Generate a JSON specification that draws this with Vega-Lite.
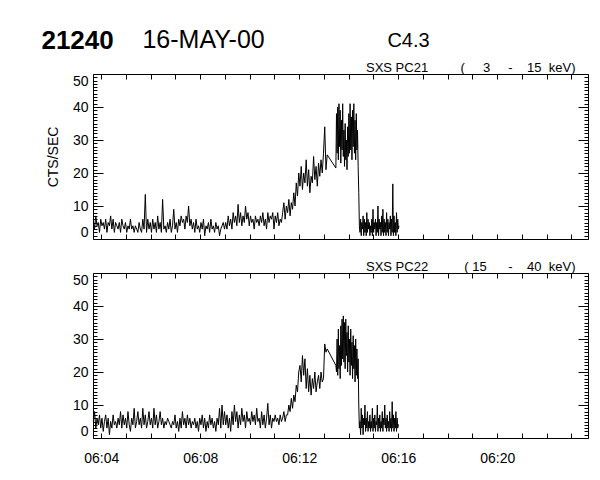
{
"$schema": "https://vega.github.io/schema/vega-lite/v6.json",
"padding": {"left": 41, "top": 28, "right": 5, "bottom": 5},
"datasets": {"d": [
{"t":3.68,"a":6,"b":5},{"t":3.73,"a":3,"b":8},{"t":3.78,"a":7,"b":3},{"t":3.83,"a":4,"b":6},{"t":3.88,"a":5,"b":4},{"t":3.93,"a":2,"b":7},{"t":3.98,"a":6,"b":3},{"t":4.03,"a":4,"b":6},{"t":4.08,"a":5,"b":2},{"t":4.13,"a":3,"b":5},
{"t":4.18,"a":6,"b":7},{"t":4.23,"a":2,"b":3},{"t":4.28,"a":5,"b":6},{"t":4.33,"a":4,"b":1},{"t":4.38,"a":7,"b":5},{"t":4.43,"a":3,"b":3},{"t":4.48,"a":6,"b":7},{"t":4.53,"a":2,"b":4},{"t":4.58,"a":5,"b":5},{"t":4.63,"a":4,"b":3},
{"t":4.68,"a":3,"b":6},{"t":4.73,"a":5,"b":4},{"t":4.78,"a":2,"b":8},{"t":4.83,"a":6,"b":3},{"t":4.88,"a":4,"b":7},{"t":4.93,"a":3,"b":4},{"t":4.98,"a":5,"b":6},{"t":5.03,"a":2,"b":3},{"t":5.08,"a":4,"b":8},{"t":5.13,"a":3,"b":4},
{"t":5.18,"a":6,"b":2},{"t":5.23,"a":3,"b":6},{"t":5.28,"a":4,"b":4},{"t":5.33,"a":2,"b":9},{"t":5.38,"a":4,"b":3},{"t":5.43,"a":3,"b":5},{"t":5.48,"a":2,"b":8},{"t":5.53,"a":5,"b":4},{"t":5.58,"a":3,"b":6},{"t":5.63,"a":2,"b":3},
{"t":5.68,"a":6,"b":9},{"t":5.73,"a":3,"b":4},{"t":5.78,"a":13.5,"b":7},{"t":5.83,"a":2,"b":3},{"t":5.88,"a":6,"b":5},{"t":5.93,"a":3,"b":8},{"t":5.98,"a":5,"b":4},{"t":6.03,"a":2,"b":6},{"t":6.08,"a":6,"b":3},{"t":6.13,"a":3,"b":9},
{"t":6.18,"a":5,"b":4},{"t":6.23,"a":2,"b":7},{"t":6.28,"a":7,"b":3},{"t":6.33,"a":3,"b":5},{"t":6.38,"a":5,"b":8},{"t":6.43,"a":2,"b":4},{"t":6.48,"a":12,"b":6},{"t":6.53,"a":3,"b":3},{"t":6.58,"a":4,"b":5},{"t":6.63,"a":2,"b":4},
{"t":6.68,"a":5,"b":6},{"t":6.73,"a":3,"b":5},{"t":6.78,"a":6,"b":4},{"t":6.83,"a":2,"b":3},{"t":6.88,"a":4,"b":5},{"t":6.93,"a":9,"b":4},{"t":6.98,"a":3,"b":7},{"t":7.03,"a":5,"b":3},{"t":7.08,"a":2,"b":5},{"t":7.13,"a":6,"b":2},
{"t":7.18,"a":4,"b":6},{"t":7.23,"a":7,"b":3},{"t":7.28,"a":5,"b":8},{"t":7.33,"a":6,"b":4},{"t":7.38,"a":3,"b":6},{"t":7.43,"a":7,"b":3},{"t":7.48,"a":5,"b":7},{"t":7.53,"a":10,"b":4},{"t":7.58,"a":4,"b":6},{"t":7.63,"a":6,"b":3},
{"t":7.68,"a":3,"b":5},{"t":7.73,"a":5,"b":4},{"t":7.78,"a":2,"b":6},{"t":7.83,"a":6,"b":3},{"t":7.88,"a":3,"b":5},{"t":7.93,"a":4,"b":2},{"t":7.98,"a":2,"b":6},{"t":8.03,"a":5,"b":4},{"t":8.08,"a":3,"b":7},{"t":8.13,"a":6,"b":3},
{"t":8.18,"a":1,"b":6},{"t":8.23,"a":4,"b":2},{"t":8.28,"a":3,"b":5},{"t":8.33,"a":5,"b":3},{"t":8.38,"a":2,"b":7},{"t":8.43,"a":6,"b":4},{"t":8.48,"a":3,"b":6},{"t":8.53,"a":4,"b":3},{"t":8.58,"a":2,"b":5},{"t":8.63,"a":5,"b":2},
{"t":8.68,"a":3,"b":6},{"t":8.73,"a":4,"b":4},{"t":8.78,"a":1,"b":9},{"t":8.83,"a":3,"b":3},{"t":8.88,"a":4,"b":10},{"t":8.93,"a":5,"b":4},{"t":8.98,"a":3,"b":8},
{"t":9.03,"a":5,"b":4},{"t":9.08,"a":3,"b":7},{"t":9.13,"a":7,"b":3},{"t":9.18,"a":4,"b":6},{"t":9.23,"a":6,"b":2},{"t":9.28,"a":3,"b":8},{"t":9.33,"a":8,"b":4},{"t":9.38,"a":5,"b":10},{"t":9.43,"a":7,"b":5},{"t":9.48,"a":4,"b":8},
{"t":9.53,"a":10.5,"b":3},{"t":9.58,"a":5,"b":7},{"t":9.63,"a":8,"b":4},{"t":9.68,"a":4,"b":9},{"t":9.73,"a":7,"b":5},{"t":9.78,"a":5,"b":7},{"t":9.83,"a":10,"b":3},{"t":9.88,"a":6,"b":8},{"t":9.93,"a":8,"b":5},{"t":9.98,"a":4,"b":6},
{"t":10.03,"a":7,"b":4},{"t":10.08,"a":5,"b":8},{"t":10.13,"a":6,"b":5},{"t":10.18,"a":3,"b":7},{"t":10.23,"a":7,"b":4},{"t":10.28,"a":5,"b":9},{"t":10.33,"a":6,"b":5},{"t":10.38,"a":4,"b":6},{"t":10.43,"a":7,"b":3},{"t":10.48,"a":5,"b":8},
{"t":10.53,"a":8,"b":4},{"t":10.58,"a":4,"b":7},{"t":10.63,"a":6,"b":3},{"t":10.68,"a":3,"b":6},{"t":10.73,"a":8,"b":10.5},{"t":10.78,"a":5,"b":4},{"t":10.83,"a":7,"b":7},{"t":10.88,"a":6,"b":3},{"t":10.93,"a":8,"b":6},{"t":10.98,"a":3,"b":5},
{"t":11.03,"a":7,"b":7},{"t":11.08,"a":5,"b":5},{"t":11.13,"a":8,"b":6},{"t":11.18,"a":4,"b":4},{"t":11.23,"a":6,"b":7},{"t":11.28,"a":5,"b":5},
{"t":11.33,"a":8,"b":6},{"t":11.38,"a":11,"b":8},{"t":11.43,"a":6,"b":5},{"t":11.48,"a":10,"b":7},{"t":11.53,"a":8,"b":7},{"t":11.58,"a":12,"b":10},{"t":11.63,"a":7,"b":8},{"t":11.68,"a":11,"b":12},{"t":11.73,"a":9,"b":9},{"t":11.78,"a":14,"b":13},
{"t":11.83,"a":10,"b":11},{"t":11.88,"a":17,"b":16},{"t":11.93,"a":13,"b":14},{"t":11.98,"a":20,"b":20},
{"t":12.03,"a":16,"b":22},{"t":12.08,"a":22,"b":17},{"t":12.13,"a":15,"b":25},{"t":12.18,"a":20,"b":19},{"t":12.23,"a":17,"b":24},{"t":12.28,"a":24,"b":15},{"t":12.33,"a":16,"b":21},{"t":12.38,"a":21,"b":14},{"t":12.43,"a":14,"b":19},{"t":12.48,"a":19,"b":13},
{"t":12.53,"a":17,"b":18},{"t":12.58,"a":25,"b":15},{"t":12.63,"a":18,"b":20},{"t":12.68,"a":22,"b":14},{"t":12.73,"a":16,"b":17},{"t":12.78,"a":23,"b":19},{"t":12.83,"a":19,"b":15},{"t":12.88,"a":24,"b":20},{"t":12.93,"a":20,"b":17},{"t":12.98,"a":26,"b":18},
{"t":13.03,"a":34,"b":28.5},{"t":13.08,"a":21,"b":26},{"t":13.13,"a":25.5,"b":27},
{"t":13.48,"a":21.5,"b":22},{"t":13.505,"a":38,"b":20},{"t":13.53,"a":26,"b":30},{"t":13.555,"a":40,"b":19},{"t":13.58,"a":24,"b":33},{"t":13.605,"a":41,"b":21},{"t":13.63,"a":28,"b":28},{"t":13.655,"a":39,"b":18},{"t":13.68,"a":23,"b":34},{"t":13.705,"a":36,"b":22},
{"t":13.73,"a":27,"b":36},{"t":13.755,"a":41,"b":24},{"t":13.78,"a":25,"b":37},{"t":13.805,"a":33,"b":23},{"t":13.83,"a":22,"b":35},{"t":13.855,"a":35,"b":21},{"t":13.88,"a":24,"b":36},{"t":13.905,"a":30,"b":25},{"t":13.93,"a":21,"b":32},{"t":13.955,"a":34,"b":20},
{"t":13.98,"a":25,"b":34},{"t":14.005,"a":38,"b":23},{"t":14.03,"a":26,"b":30},{"t":14.055,"a":41,"b":19},{"t":14.08,"a":27,"b":33},{"t":14.105,"a":37,"b":22},{"t":14.13,"a":24,"b":29},{"t":14.155,"a":39,"b":18},{"t":14.18,"a":28,"b":31},{"t":14.205,"a":41,"b":21},
{"t":14.23,"a":26,"b":28},{"t":14.255,"a":36,"b":17},{"t":14.28,"a":24,"b":30},{"t":14.305,"a":38,"b":19},{"t":14.33,"a":27,"b":27},{"t":14.355,"a":33,"b":18},{"t":14.38,"a":22,"b":24},{"t":14.405,"a":14,"b":10},{"t":14.43,"a":4,"b":3},
{"t":14.455,"a":2,"b":5},{"t":14.48,"a":6,"b":1},{"t":14.505,"a":1,"b":9},{"t":14.53,"a":5,"b":3},{"t":14.555,"a":3,"b":7},{"t":14.58,"a":7,"b":1},{"t":14.605,"a":1,"b":6},{"t":14.63,"a":6,"b":4},{"t":14.655,"a":2,"b":10},{"t":14.68,"a":5,"b":2},
{"t":14.705,"a":1,"b":6},{"t":14.73,"a":8,"b":3},{"t":14.755,"a":2,"b":8},{"t":14.78,"a":6,"b":2},{"t":14.805,"a":3,"b":5},{"t":14.83,"a":5,"b":3},{"t":14.855,"a":1,"b":7},{"t":14.88,"a":4,"b":2},{"t":14.905,"a":2,"b":5},{"t":14.93,"a":6,"b":3},
{"t":14.955,"a":1,"b":9},{"t":14.98,"a":9,"b":2},{"t":15.005,"a":2,"b":6},{"t":15.03,"a":5,"b":3},{"t":15.055,"a":3,"b":7},{"t":15.08,"a":6,"b":2},{"t":15.105,"a":1,"b":5},{"t":15.13,"a":5,"b":4},{"t":15.155,"a":2,"b":10},{"t":15.18,"a":10,"b":2},
{"t":15.205,"a":1,"b":6},{"t":15.23,"a":6,"b":3},{"t":15.255,"a":3,"b":7},{"t":15.28,"a":5,"b":2},{"t":15.305,"a":1,"b":5},{"t":15.33,"a":7,"b":3},{"t":15.355,"a":2,"b":8},{"t":15.38,"a":9,"b":2},{"t":15.405,"a":1,"b":6},{"t":15.43,"a":6,"b":4},
{"t":15.455,"a":2,"b":10},{"t":15.48,"a":5,"b":3},{"t":15.505,"a":1,"b":6},{"t":15.53,"a":8,"b":2},{"t":15.555,"a":2,"b":7},{"t":15.58,"a":6,"b":3},{"t":15.605,"a":1,"b":5},{"t":15.63,"a":5,"b":2},{"t":15.655,"a":3,"b":8},{"t":15.68,"a":7,"b":3},
{"t":15.705,"a":1,"b":6},{"t":15.73,"a":6,"b":2},{"t":15.755,"a":2,"b":11},{"t":15.78,"a":16.7,"b":3},{"t":15.805,"a":1,"b":7},{"t":15.83,"a":7,"b":2},{"t":15.855,"a":2,"b":6},{"t":15.88,"a":5,"b":3},{"t":15.905,"a":1,"b":8},{"t":15.93,"a":8,"b":2},
{"t":15.955,"a":2,"b":6},{"t":15.98,"a":6,"b":3},{"t":16.005,"a":3,"b":4},{"t":16.03,"a":4,"b":4}
]},
"title": {"text": "21240", "fontSize": 26, "fontWeight": "bold", "anchor": "start", "frame": "bounds", "dx": -5, "offset": -26},
"vconcat": [{
  "title": {"text": "16-MAY-00", "fontSize": 25, "anchor": "start", "frame": "bounds", "dx": 96, "offset": -22},
  "vconcat": [{
    "title": {"text": "C4.3", "fontSize": 20, "anchor": "start", "frame": "bounds", "dx": 341, "offset": 11},
    "spacing": 18,
    "vconcat": [
      {
        "width": 495, "height": 165,
        "title": {"text": "SXS PC21\u00a0\u00a0\u00a0\u00a0\u00a0\u00a0\u00a0\u00a0\u00a0(\u00a0\u00a0\u00a0\u00a0\u00a03\u00a0\u00a0\u00a0\u00a0\u00a0-\u00a0\u00a0\u00a0\u00a015\u00a0\u00a0keV)", "anchor": "end", "fontSize": 13, "dx": -13, "offset": -5},
        "data": {"name": "d"},
        "layer": [
          {"mark": {"type": "line", "color": "black", "strokeWidth": 1},
           "encoding": {
             "x": {"field": "t", "type": "quantitative", "scale": {"domain": [3.667, 23.667], "nice": false, "zero": false},
                   "axis": {"orient": "bottom", "title": null, "values": [4,5,6,7,8,9,10,11,12,13,14,15,16,17,18,19,20,21,22,23], "labels": false, "tickSize": -5}},
             "y": {"field": "a", "type": "quantitative", "scale": {"domain": [0, 50], "nice": false},
                   "axis": {"orient": "left", "title": "CTS/SEC", "titlePadding": 12, "values": [0,1,2,3,4,5,6,7,8,9,10,11,12,13,14,15,16,17,18,19,20,21,22,23,24,25,26,27,28,29,30,31,32,33,34,35,36,37,38,39,40,41,42,43,44,45,46,47,48,49,50],
                            "tickSize": {"condition": {"test": "datum.value % 10 === 0", "value": -10}, "value": -4},
                            "labelExpr": "datum.value % 10 === 0 ? datum.label : ''", "labelFlush": true, "labelPadding": 15}}
           }},
          {"mark": {"type": "line", "strokeOpacity": 0},
           "encoding": {
             "x": {"field": "t", "type": "quantitative",
                   "axis": {"orient": "top", "title": null, "values": [4,5,6,7,8,9,10,11,12,13,14,15,16,17,18,19,20,21,22,23], "labels": false, "tickSize": -5}},
             "y": {"field": "a", "type": "quantitative",
                   "axis": {"orient": "right", "title": null, "labels": false, "values": [0,1,2,3,4,5,6,7,8,9,10,11,12,13,14,15,16,17,18,19,20,21,22,23,24,25,26,27,28,29,30,31,32,33,34,35,36,37,38,39,40,41,42,43,44,45,46,47,48,49,50],
                            "tickSize": {"condition": {"test": "datum.value % 10 === 0", "value": -10}, "value": -4}}}
           }}
        ],
        "resolve": {"axis": {"x": "independent", "y": "independent"}}
      },
      {
        "width": 495, "height": 165,
        "title": {"text": "SXS PC22\u00a0\u00a0\u00a0\u00a0\u00a0\u00a0\u00a0\u00a0\u00a0\u00a0(\u00a015\u00a0\u00a0\u00a0\u00a0\u00a0\u00a0-\u00a0\u00a0\u00a0\u00a040\u00a0\u00a0keV)", "anchor": "end", "fontSize": 13, "dx": -13, "offset": -5},
        "data": {"name": "d"},
        "layer": [
          {"mark": {"type": "line", "color": "black", "strokeWidth": 1},
           "encoding": {
             "x": {"field": "t", "type": "quantitative", "scale": {"domain": [3.667, 23.667], "nice": false, "zero": false},
                   "axis": {"orient": "bottom", "title": null, "values": [4,5,6,7,8,9,10,11,12,13,14,15,16,17,18,19,20,21,22,23], "tickSize": -5, "labelPadding": 18, "labelFlush": false,
                            "labelExpr": "datum.value % 4 === 0 ? '06:' + (datum.value < 10 ? '0' : '') + datum.value : ''"}},
             "y": {"field": "b", "type": "quantitative", "scale": {"domain": [0, 50], "nice": false},
                   "axis": {"orient": "left", "title": null, "values": [0,1,2,3,4,5,6,7,8,9,10,11,12,13,14,15,16,17,18,19,20,21,22,23,24,25,26,27,28,29,30,31,32,33,34,35,36,37,38,39,40,41,42,43,44,45,46,47,48,49,50],
                            "tickSize": {"condition": {"test": "datum.value % 10 === 0", "value": -10}, "value": -4},
                            "labelExpr": "datum.value % 10 === 0 ? datum.label : ''", "labelFlush": true, "labelPadding": 15}}
           }},
          {"mark": {"type": "line", "strokeOpacity": 0},
           "encoding": {
             "x": {"field": "t", "type": "quantitative",
                   "axis": {"orient": "top", "title": null, "values": [4,5,6,7,8,9,10,11,12,13,14,15,16,17,18,19,20,21,22,23], "labels": false, "tickSize": -5}},
             "y": {"field": "b", "type": "quantitative",
                   "axis": {"orient": "right", "title": null, "labels": false, "values": [0,1,2,3,4,5,6,7,8,9,10,11,12,13,14,15,16,17,18,19,20,21,22,23,24,25,26,27,28,29,30,31,32,33,34,35,36,37,38,39,40,41,42,43,44,45,46,47,48,49,50],
                            "tickSize": {"condition": {"test": "datum.value % 10 === 0", "value": -10}, "value": -4}}}
           }}
        ],
        "resolve": {"axis": {"x": "independent", "y": "independent"}}
      }
    ]
  }]
}],
"config": {
  "view": {"stroke": null},
  "font": "Liberation Sans",
  "axis": {"labelFont": "Liberation Sans", "labelFontSize": 14, "labelColor": "#000", "domainColor": "#000", "tickColor": "#000", "titleFont": "Liberation Sans", "titleFontSize": 14, "titleFontWeight": "normal", "titleColor": "#000", "grid": false, "labelOverlap": false, "labelBound": false},
  "title": {"font": "Liberation Sans", "color": "#000", "fontWeight": "normal"}
}
}
